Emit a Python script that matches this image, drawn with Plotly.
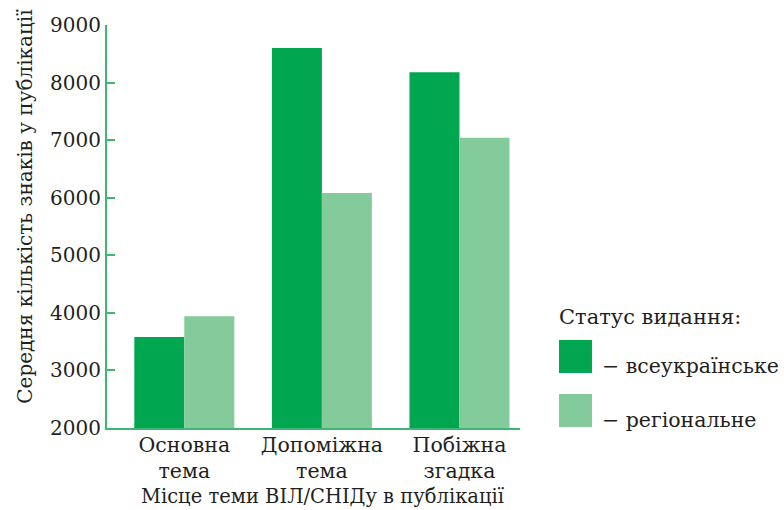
import plotly.graph_objects as go

# Average number of characters per publication, by place of the HIV/AIDS topic
categories = ["Основна<br>тема", "Допоміжна<br>тема", "Побіжна<br>згадка"]
national = [3580, 8600, 8180]
regional = [3940, 6080, 7040]
series_names = ["всеукраїнське", "регіональне"]
y_ticks = [2000, 3000, 4000, 5000, 6000, 7000, 8000, 9000]
y_title = "Середня кількість знаків у публікації"
x_title = "Місце теми ВІЛ/СНІДу в публікації"
legend_title = "Статус видання:"

DARK = "#00A650"
LIGHT = "#83CB9B"
AXIS = "#3DB872"
FONT = "DejaVu Serif"
TEXT = "#231F20"

fig = go.Figure()
fig.add_trace(go.Bar(x=categories, y=national, name=series_names[0],
                     marker=dict(color=DARK, line=dict(width=0))))
fig.add_trace(go.Bar(x=categories, y=regional, name=series_names[1],
                     marker=dict(color=LIGHT, line=dict(width=0))))

fig.update_layout(
    width=784, height=510,
    margin=dict(l=107, r=264, t=25, b=82, autoexpand=False),
    paper_bgcolor="white", plot_bgcolor="white",
    barmode="group", bargap=0.273, bargroupgap=0,
    showlegend=False,
    font=dict(family=FONT, color=TEXT, size=21),
)
fig.update_yaxes(
    range=[2000, 9000], tickvals=y_ticks,
    showline=True, linecolor=AXIS, linewidth=2,
    ticks="inside", ticklen=8, tickcolor=AXIS, tickwidth=2,
    showgrid=False, zeroline=False,
    tickfont=dict(size=20),
)
fig.update_xaxes(
    type="category", range=[-0.562, 2.44],
    showline=True, linecolor=AXIS, linewidth=2,
    ticks="", showgrid=False,
    tickfont=dict(size=20.5), ticklabelstandoff=-3,
)

# Axis titles
fig.add_annotation(xref="paper", yref="paper", x=-0.199, y=0.551, textangle=-90,
                   xanchor="center", yanchor="middle", showarrow=False,
                   text=y_title, font=dict(size=20))
fig.add_annotation(xref="paper", yref="paper", x=0.523, y=-0.171,
                   xanchor="center", yanchor="middle", showarrow=False,
                   text=x_title, font=dict(size=19.5))

# Legend block on the right: title, colour swatches and labels
fig.add_annotation(xref="paper", yref="paper", x=1.0896, y=0.275, xanchor="left", yanchor="middle",
                   text=legend_title, showarrow=False, font=dict(size=21))
swatches = [(DARK, 0.1365, 0.2184, 0.154, series_names[0]),
            (LIGHT, 0.0025, 0.0844, 0.020, series_names[1])]
for color, y0, y1, ytext, label in swatches:
    fig.add_shape(type="rect", xref="paper", yref="paper",
                  x0=1.0944, x1=1.1743, y0=y0, y1=y1,
                  fillcolor=color, line=dict(width=0))
    fig.add_annotation(xref="paper", yref="paper", x=1.1925, y=ytext,
                       xanchor="left", yanchor="middle", showarrow=False,
                       text="− " + label, font=dict(size=20.5))

fig.write_html("out.html")
